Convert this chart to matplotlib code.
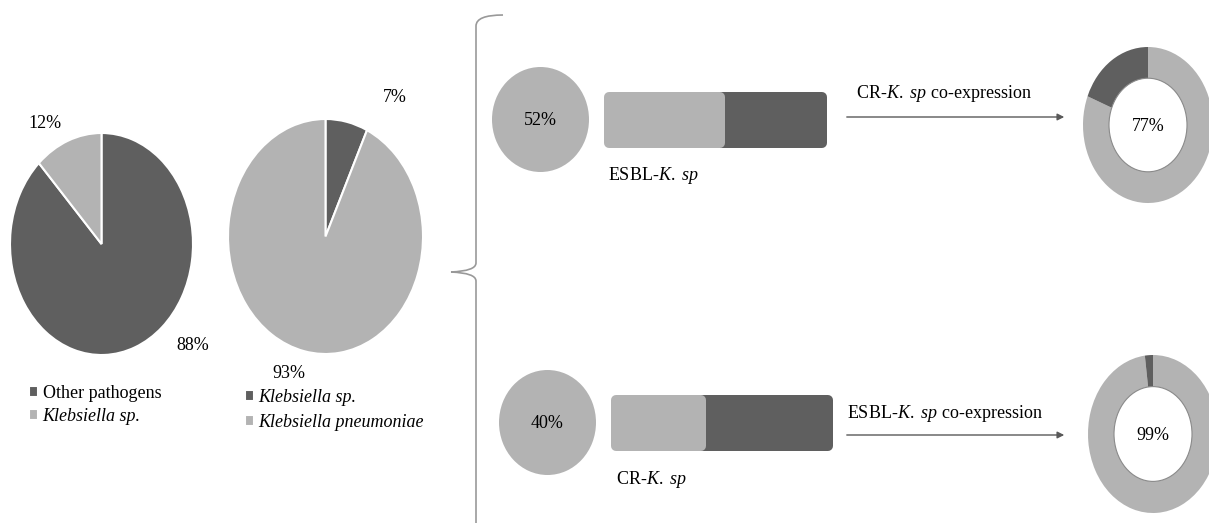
import matplotlib
matplotlib.use("Agg")
import matplotlib.pyplot as plt
from matplotlib.path import Path
from matplotlib.patches import PathPatch, Ellipse

plt.rcParams['font.family'] = ['Liberation Serif', 'DejaVu Serif']
plt.rcParams['mathtext.fontset'] = 'custom'
plt.rcParams['mathtext.rm'] = 'Liberation Serif'
plt.rcParams['mathtext.it'] = 'Liberation Serif:italic'

# ---------------- data ----------------
pie1_labels = ["Other pathogens", "Klebsiella sp."]
pie1_values = [88, 12]
pie2_labels = ["Klebsiella sp.", "Klebsiella pneumoniae"]
pie2_values = [7, 93]
circle_values = [52, 40]
circle_labels = ["52%", "40%"]
bar_names = [r"ESBL-$\mathit{K.}$ $\mathit{sp}$", r"CR-$\mathit{K.}$ $\mathit{sp}$"]
bar_values = [52, 40]
arrow_texts = [r"CR-$\mathit{K.}$ $\mathit{sp}$ co-expression",
               r"ESBL-$\mathit{K.}$ $\mathit{sp}$ co-expression"]
donut_values = [[81, 19], [98, 2]]
donut_labels = ["77%", "99%"]

DARK = "#5f5f5f"
LIGHT = "#b3b3b3"
FS = 13

W, H = 1209, 523
fig = plt.figure(figsize=(W / 100, H / 100), dpi=100)
fig.patch.set_facecolor("white")


def px_axes(x0, y0, x1, y1, **kw):
    return fig.add_axes([x0 / W, 1 - y1 / H, (x1 - x0) / W, (y1 - y0) / H], **kw)


def unit_axes(ax):
    ax.set_xlim(-1, 1)
    ax.set_ylim(-1, 1)
    ax.set_aspect("auto")
    ax.axis("off")


# ---------------- pie 1 ----------------
ax1 = px_axes(10, 133, 193, 355)
w1, _ = ax1.pie(pie1_values, colors=[DARK, LIGHT], startangle=90, counterclock=False,
                wedgeprops=dict(edgecolor="white", linewidth=1.5))
unit_axes(ax1)
leg1 = ax1.legend(w1, pie1_labels, loc="upper left", bbox_to_anchor=(29 / W, 1 - 385 / H),
                  bbox_transform=fig.transFigure, frameon=False, fontsize=FS,
                  handlelength=0.5, handleheight=0.5, handletextpad=0.25,
                  labelspacing=0.32, borderpad=0, borderaxespad=0)
leg1.get_texts()[1].set_fontstyle("italic")

# ---------------- pie 2 ----------------
ax2 = px_axes(228, 119, 423, 354)
w2, _ = ax2.pie(pie2_values, colors=[DARK, LIGHT], startangle=90, counterclock=False,
                wedgeprops=dict(edgecolor="white", linewidth=1.5))
unit_axes(ax2)
leg2 = ax2.legend(w2, pie2_labels, loc="upper left", bbox_to_anchor=(245 / W, 1 - 389 / H),
                  bbox_transform=fig.transFigure, frameon=False, fontsize=FS,
                  handlelength=0.5, handleheight=0.5, handletextpad=0.25,
                  labelspacing=0.43, borderpad=0, borderaxespad=0)
for t in leg2.get_texts():
    t.set_fontstyle("italic")

# ---------------- circles ----------------
circle_boxes = [(492, 67, 589, 172), (499, 370, 596, 475)]
for box, val, lab in zip(circle_boxes, circle_values, circle_labels):
    ax = px_axes(*box)
    ax.pie([val], colors=[LIGHT], wedgeprops=dict(linewidth=0))
    unit_axes(ax)
    ax.text(0, -0.02, lab, ha="center", va="center", fontsize=FS)

# ---------------- bars ----------------
bar_boxes = [(609, 97, 822, 143), (616, 400, 828, 446)]
for box, val in zip(bar_boxes, bar_values):
    ax = px_axes(*box)
    ax.barh([0], [100 - val], left=[val], height=1, color=DARK, edgecolor=DARK,
            linewidth=7.2, joinstyle="round", clip_on=False)
    ax.barh([0], [val], height=1, color=LIGHT, edgecolor=LIGHT,
            linewidth=7.2, joinstyle="round", clip_on=False)
    ax.set_xlim(0, 100)
    ax.set_ylim(-0.5, 0.5)
    ax.axis("off")

# ---------------- donuts ----------------
donut_boxes = [(1083, 47, 1213, 203), (1088, 355, 1218, 513)]
for box, vals, lab in zip(donut_boxes, donut_values, donut_labels):
    ax = px_axes(*box)
    ax.pie(vals, colors=[LIGHT, DARK], startangle=90, counterclock=False,
           wedgeprops=dict(width=0.4, linewidth=0))
    unit_axes(ax)
    ax.add_patch(Ellipse((0, 0), 1.2, 1.2, facecolor="none", edgecolor="#8a8a8a", linewidth=0.8))
    ax.text(0, -0.02, lab, ha="center", va="center", fontsize=FS)

# ---------------- overlay: annotations ----------------
ov = fig.add_axes([0, 0, 1, 1], zorder=10)
ov.set_xlim(0, W)
ov.set_ylim(H, 0)
ov.axis("off")
ov.patch.set_alpha(0)

# percentage labels around the pies
ov.text(45, 123, "12%", ha="center", va="center", fontsize=FS)
ov.text(193, 345, "88%", ha="center", va="center", fontsize=FS)
ov.text(395, 98, "7%", ha="center", va="center", fontsize=FS)
ov.text(289, 373, "93%", ha="center", va="center", fontsize=FS)

# bar names
ov.text(608, 175, bar_names[0], ha="left", va="center", fontsize=FS)
ov.text(616, 480, bar_names[1], ha="left", va="center", fontsize=FS)

# arrows and their texts
ov.annotate("", xy=(1067, 117), xytext=(844, 117),
            arrowprops=dict(arrowstyle="-|>", color="#595959", lw=1, mutation_scale=10))
ov.annotate("", xy=(1067, 435), xytext=(844, 435),
            arrowprops=dict(arrowstyle="-|>", color="#595959", lw=1, mutation_scale=10))
ov.text(856, 94, arrow_texts[0], ha="left", va="center", fontsize=FS)
ov.text(847, 413, arrow_texts[1], ha="left", va="center", fontsize=FS)

# curly brace
verts = [(503, 15), (476, 15), (476, 26),
         (476, 263), (476, 271), (451, 272),
         (476, 273), (476, 281), (476, 523)]
codes = [Path.MOVETO, Path.CURVE3, Path.CURVE3,
         Path.LINETO, Path.CURVE3, Path.CURVE3,
         Path.CURVE3, Path.CURVE3, Path.LINETO]
ov.add_patch(PathPatch(Path(verts, codes), facecolor="none", edgecolor="#999999", lw=1.2))

fig.savefig("out.png", dpi=100, facecolor="white")
